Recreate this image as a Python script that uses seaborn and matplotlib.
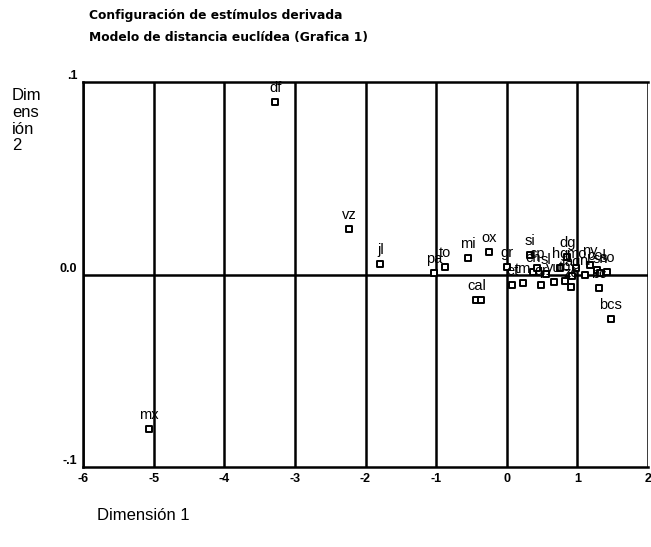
import matplotlib
matplotlib.use('Agg')
import matplotlib.pyplot as plt
import pandas as pd
import seaborn as sns

# estimulos (estados) y coordenadas en las dos dimensiones
labels = ['df', 'vz', 'jl', 'mx', 'pa', 'to', 'mi', 'ox', 'cal', '',
          'gr', 'et', 'tm', 'si', 'ch', 'cp', 'qr', 'sl', 'yu', 'hg',
          'tb', 'zc', 'dg', 'ag', 'mo', 'ny', 'col', 'nl', 'sn', 'so',
          'bcs', 'bc']
dim1 = [-3.28, -2.23, -1.79, -5.07, -1.03, -0.87, -0.55, -0.25, -0.43, -0.36,
        0.00, 0.08, 0.23, 0.33, 0.37, 0.43, 0.49, 0.55, 0.67, 0.76,
        0.83, 0.91, 0.86, 0.93, 0.98, 1.18, 1.28, 1.11, 1.32, 1.42,
        1.47, 1.30]
dim2 = [0.0896, 0.0236, 0.0055, -0.0803, 0.0008, 0.0039, 0.0086, 0.0117, -0.0132, -0.0132,
        0.0040, -0.0055, -0.0044, 0.0100, 0.0013, 0.0034, -0.0055, 0.0005, -0.0039, 0.0034,
        -0.0034, -0.0065, 0.0091, -0.0010, 0.0035, 0.0049, 0.0023, -0.0003, 0.0008, 0.0015,
        -0.0233, -0.0072]

xticks = [-6, -5, -4, -3, -2, -1, 0, 1, 2]
yticks = [-0.1, 0.0, 0.1]
ytick_labels = ['-.1', '0.0', '.1']

df = pd.DataFrame({'label': labels, 'dim1': dim1, 'dim2': dim2})

sns.set_style('white')
plt.rcParams['font.family'] = ['Liberation Sans', 'DejaVu Sans']
plt.rcParams['text.color'] = 'black'
plt.rcParams['xtick.color'] = 'black'
plt.rcParams['ytick.color'] = 'black'

fig = plt.figure(figsize=(6.51, 5.47), dpi=100)
ax = fig.add_axes([83 / 651, 1 - 467 / 547, (648 - 83) / 651, (467 - 82) / 547])

# lineas de referencia
for x in xticks:
    ax.axvline(x, color='black', lw=1.8, zorder=1)
ax.axhline(0, color='black', lw=1.8, zorder=1)

sns.scatterplot(data=df, x='dim1', y='dim2', ax=ax, marker='s', s=18,
                facecolor='white', edgecolor='black', linewidth=1.4, zorder=3)

for _, r in df.iterrows():
    ax.annotate(r['label'], (r['dim1'], r['dim2']), xytext=(0, 5),
                textcoords='offset points', ha='center', va='bottom',
                fontsize=10.5, color='black', zorder=4)

ax.set_xlim(-6, 2)
ax.set_ylim(-0.1, 0.1)
ax.set_xticks(xticks)
ax.set_xticklabels([str(t) for t in xticks], fontsize=9, fontweight='bold')
ax.set_yticks(yticks)
ax.set_yticklabels(ytick_labels, fontsize=9, fontweight='bold', va='bottom')
ax.tick_params(length=2, width=1.5, colors='black', pad=2)
for s in ['left', 'bottom', 'top']:
    ax.spines[s].set_color('black')
    ax.spines[s].set_linewidth(1.8)
ax.spines['right'].set_visible(False)
ax.set_xlabel('')
ax.set_ylabel('')

fig.text(89 / 651, 1 - 16 / 547, 'Configuración de estímulos derivada',
         fontsize=8.8, fontweight='heavy', family='DejaVu Sans', va='center')
fig.text(89 / 651, 1 - 37 / 547, 'Modelo de distancia euclídea (Grafica 1)',
         fontsize=8.8, fontweight='heavy', family='DejaVu Sans', va='center')
fig.text(12 / 651, 1 - 88 / 547, 'Dim\nens\nión\n2', fontsize=12,
         va='top', ha='left', linespacing=1.15)
fig.text(97 / 651, 1 - 515 / 547, 'Dimensión 1', fontsize=12, va='center')

fig.savefig('out.png', dpi=100)
